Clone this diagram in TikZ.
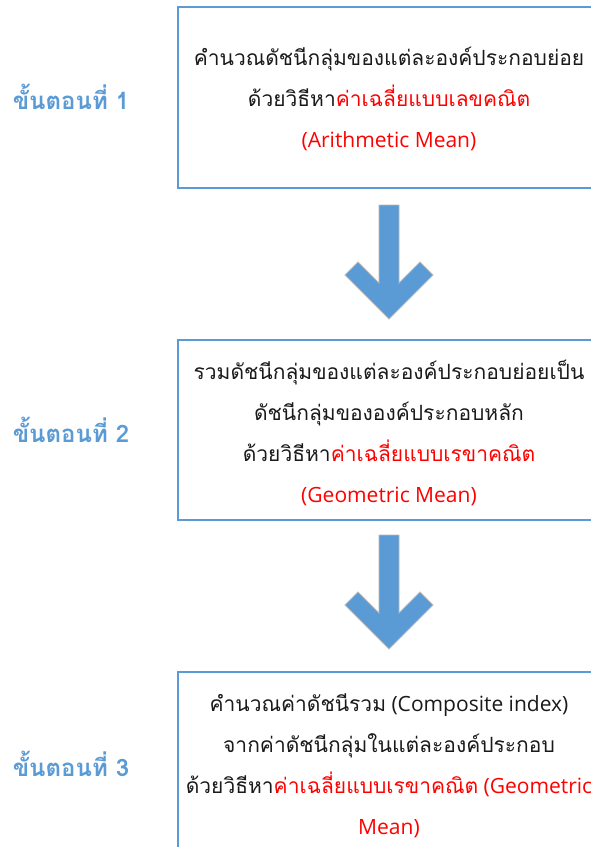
\documentclass[tikz,border=0pt]{standalone}
\usepackage{fontspec}
\setmainfont{Open Sans}
\newfontfamily\thaifont[Script=Thai]{Loma}
\newcommand{\thtxt}[1]{{\thaifont #1}}
\definecolor{offblue}{HTML}{5B9BD5}
\definecolor{txtred}{HTML}{FF0000}
\definecolor{txtgray}{HTML}{1A1A1A}
\tikzset{
  boxframe/.style={draw=offblue, line width=1.6pt},
  boxtext/.style={align=center, text=txtgray, inner sep=0pt, font=\fontsize{21}{41}\selectfont},
  steplabel/.style={text=offblue, inner sep=0pt, font=\fontsize{24}{26}\selectfont\bfseries\thaifont},
  blockarrow/.pic={
    \fill[offblue, draw=gray!55, line width=0.8pt]
      (-10,0) -- (10,0) -- (10,78) -- (31,57) -- (44,70) -- (0,114)
      -- (-44,70) -- (-31,57) -- (-10,78) -- cycle;
  }
}
\begin{document}
\begin{tikzpicture}[x=1pt,y=-1pt]
\useasboundingbox (0,0) rectangle (591,847);
\clip (0,0) rectangle (591,847);
\fill[white] (0,0) rectangle (591,847);

% boxes
\draw[boxframe] (178,7) rectangle (620,188);
\draw[boxframe] (178,340) rectangle (620,520);
\draw[boxframe] (178,672) rectangle (620,880);

% box texts
\node[boxtext] (t1) at (389,99) {\thtxt{คำนวณดัชนีกลุ่มของแต่ละองค์ประกอบย่อย}\\
  \thtxt{ด้วยวิธีหา}\textcolor{txtred}{\thtxt{ค่าเฉลี่ยแบบเลขคณิต}}\\
  \textcolor{txtred}{(Arithmetic Mean)}};
\node[boxtext] (t2) at (389,433) {\thtxt{รวมดัชนีกลุ่มของแต่ละองค์ประกอบย่อยเป็น}\\
  \thtxt{ดัชนีกลุ่มขององค์ประกอบหลัก}\\
  \thtxt{ด้วยวิธีหา}\textcolor{txtred}{\thtxt{ค่าเฉลี่ยแบบเรขาคณิต}}\\
  \textcolor{txtred}{(Geometric Mean)}};
\node[boxtext] (t3) at (389,766) {\thtxt{คำนวณค่าดัชนีรวม} (Composite index)\\
  \thtxt{จากค่าดัชนีกลุ่มในแต่ละองค์ประกอบ}\\
  \thtxt{ด้วยวิธีหา}\textcolor{txtred}{\thtxt{ค่าเฉลี่ยแบบเรขาคณิต} (Geometric}\\
  \textcolor{txtred}{Mean)}};

% step labels
\node[steplabel] (s1) at (71,97) {ขั้นตอนที่ 1};
\node[steplabel] (s2) at (71,430) {ขั้นตอนที่ 2};
\node[steplabel] (s3) at (71,764) {ขั้นตอนที่ 3};

% arrows
\coordinate (a1) at (389,205);
\coordinate (a2) at (389,535);
\pic at (a1) {blockarrow};
\pic at (a2) {blockarrow};
\end{tikzpicture}
\end{document}
